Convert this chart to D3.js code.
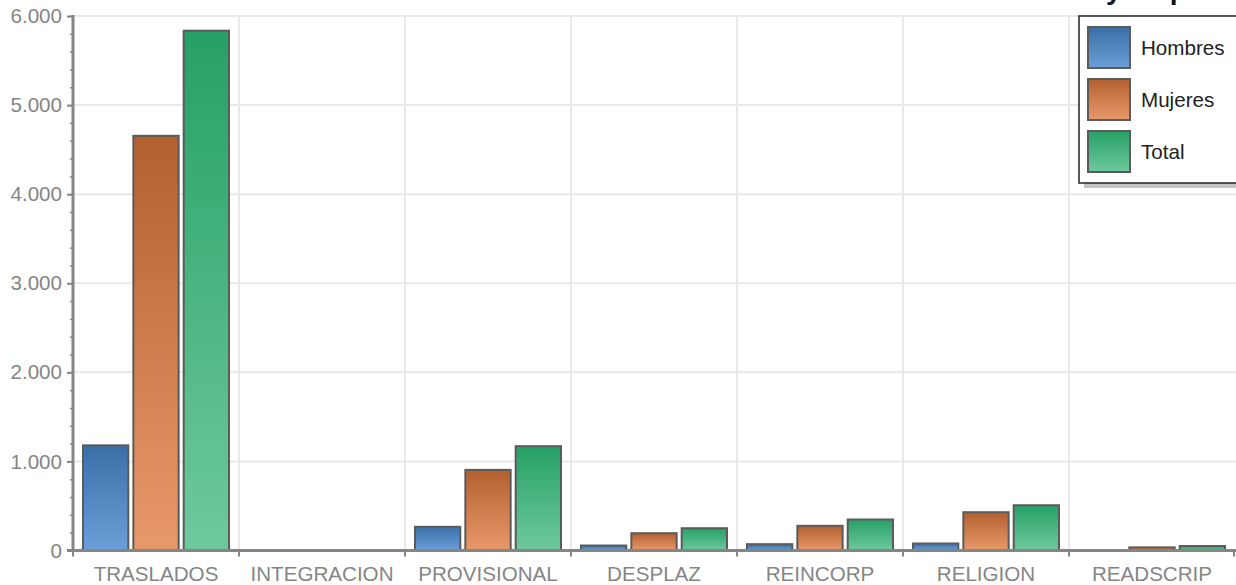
<!DOCTYPE html>
<html><head><meta charset="utf-8">
<script src="https://cdn.jsdelivr.net/npm/d3@7"></script>
<style>
html,body{margin:0;padding:0;background:#fff;}
svg{display:block;font-family:"Liberation Sans",Arial,sans-serif;}
</style></head>
<body>
<svg id="chart" width="1236" height="585"></svg>
<script>
const categories = ["TRASLADOS","INTEGRACION","PROVISIONAL","DESPLAZ","REINCORP","RELIGION","READSCRIP"];
const seriesNames = ["Hombres","Mujeres","Total"];
const hombres = [1180, 0, 266, 56, 71, 79, 0];
const mujeres = [4655, 0, 905, 194, 277, 430, 35];
const total   = [5835, 0, 1171, 250, 348, 508, 50];
const yTicks = [0, 1000, 2000, 3000, 4000, 5000, 6000];
const titleText = "Comisiones de servicio y su perfil";

const seriesValues = [hombres, mujeres, total];
const gradStops = [["#3a6ea7","#6aa0d7"],["#b3602f","#e8996b"],["#26a067","#6fc99d"]];

const svg = d3.select("#chart");
const W = 1236, H = 585;
const m = {left:73, right:1, top:16, bottom:34.5};
const FS = 20.6;

const x = d3.scaleBand().domain(categories).range([m.left, W - m.right]).paddingInner(0).paddingOuter(0);
const xs = d3.scaleBand().domain(seriesNames).range([10, x.bandwidth() - 10]).paddingInner(0.1);
const y = d3.scaleLinear().domain([0, 6000]).range([H - m.bottom, m.top]);

const defs = svg.append("defs");
seriesNames.forEach((s, i) => {
  const g = defs.append("linearGradient").attr("id", "g" + i)
    .attr("x1", 0).attr("y1", 0).attr("x2", 0).attr("y2", 1);
  g.append("stop").attr("offset", "0%").attr("stop-color", gradStops[i][0]);
  g.append("stop").attr("offset", "100%").attr("stop-color", gradStops[i][1]);
});

// title (clipped at top, as in the reference)
const title = svg.append("text").attr("x", 0).attr("y", -1)
  .attr("font-size", 28).attr("font-weight", "bold").attr("fill", "#111")
  .text(titleText);
const yi = titleText.indexOf(" y ") + 1;
const pos = title.node().getStartPositionOfChar(yi).x;
title.attr("x", 1106 - pos);

// gridlines
const grid = svg.append("g");
grid.selectAll("line.h").data(yTicks.filter(d => d > 0)).join("line")
  .attr("x1", m.left).attr("x2", W).attr("y1", d => y(d)).attr("y2", d => y(d))
  .attr("stroke", "#e9e9e9").attr("stroke-width", 2);
grid.selectAll("line.v").data(categories.slice(1)).join("line")
  .attr("x1", d => x(d)).attr("x2", d => x(d)).attr("y1", m.top).attr("y2", y(0))
  .attr("stroke", "#e9e9e9").attr("stroke-width", 2);

// bars
const groups = svg.append("g").selectAll("g").data(categories).join("g")
  .attr("transform", d => `translate(${x(d)},0)`);
groups.selectAll("rect").data((c, ci) => seriesNames.map((s, si) => ({s, si, v: seriesValues[si][ci]})))
  .join("rect")
  .filter(d => d.v > 0)
  .attr("x", d => xs(d.s)).attr("width", xs.bandwidth())
  .attr("y", d => y(d.v)).attr("height", d => y(0) - y(d.v))
  .attr("fill", d => `url(#g${d.si})`)
  .attr("stroke", "#5b5b5b").attr("stroke-width", 2);

// y axis
const fmt = d3.formatLocale({decimal:",", thousands:".", grouping:[3], currency:["",""]}).format(",");
const minor = d3.range(0, 6001, 200);
const yMinor = svg.append("g").attr("transform", `translate(${m.left},0)`)
  .call(d3.axisLeft(y).tickValues(minor).tickSize(3).tickFormat(""));
yMinor.select(".domain").remove();
yMinor.selectAll("line").attr("stroke", "#888").attr("stroke-width", 1.5);
const yAx = svg.append("g").attr("transform", `translate(${m.left},0)`)
  .call(d3.axisLeft(y).tickValues(yTicks).tickSize(6).tickPadding(5).tickFormat(fmt));
yAx.select(".domain").attr("stroke", "#858585").attr("stroke-width", 3).attr("d", `M0,${m.top - 1}V${y(0)}`);
yAx.selectAll(".tick line").attr("stroke", "#858585").attr("stroke-width", 2);
yAx.selectAll(".tick text").attr("font-size", FS).attr("fill", "#858585")
  .attr("font-family", "'Liberation Sans',Arial,sans-serif");

// x axis
const xAx = svg.append("g").attr("transform", `translate(0,${y(0)})`)
  .call(d3.axisBottom(x).tickSize(0).tickPadding(16));
xAx.select(".domain").attr("stroke", "#858585").attr("stroke-width", 3).attr("d", `M${m.left - 6},0H${W}`);
xAx.selectAll(".tick text").attr("font-size", FS).attr("fill", "#858585")
  .attr("font-family", "'Liberation Sans',Arial,sans-serif");
xAx.selectAll("line.b").data(categories.concat(["end"])).join("line")
  .attr("x1", (d, i) => i < categories.length ? x(d) : x.range()[1] - 1)
  .attr("x2", (d, i) => i < categories.length ? x(d) : x.range()[1] - 1)
  .attr("y1", 0).attr("y2", 6).attr("stroke", "#858585").attr("stroke-width", 2);

// legend
const lg = svg.append("g").attr("transform", "translate(1079,16)");
lg.append("rect").attr("x", 5).attr("y", 5).attr("width", 170).attr("height", 167).attr("fill", "#c4c4c4");
lg.append("rect").attr("x", 0).attr("y", 0).attr("width", 170).attr("height", 167)
  .attr("fill", "#fff").attr("stroke", "#222").attr("stroke-width", 1.5);
const li = lg.selectAll("g.item").data(seriesNames).join("g")
  .attr("transform", (d, i) => `translate(9,${11 + i * 52})`);
li.append("rect").attr("width", 42).attr("height", 41)
  .attr("fill", (d, i) => `url(#g${i})`).attr("stroke", "#5b5b5b").attr("stroke-width", 2);
li.append("text").attr("x", 53).attr("y", 21).attr("dy", "0.35em")
  .attr("font-size", FS).attr("fill", "#222").text(d => d);
</script>
</body></html>
